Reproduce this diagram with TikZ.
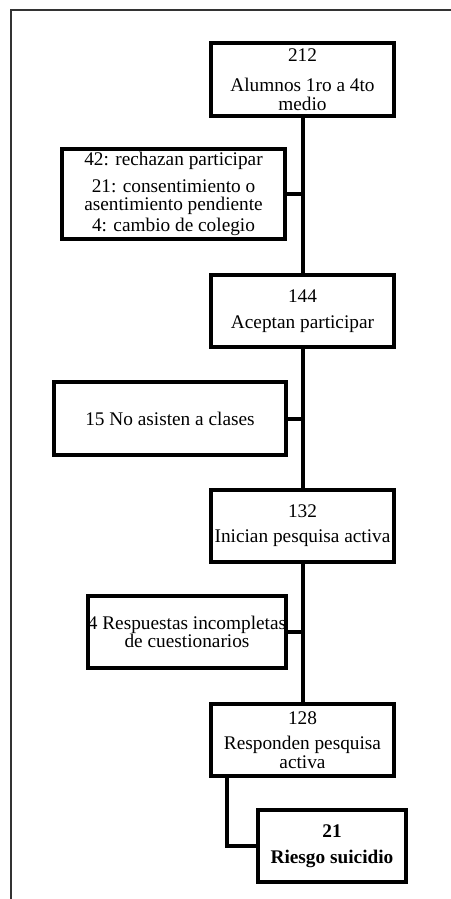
\documentclass[tikz,border=0pt]{standalone}
\usepackage{fontspec}
\setmainfont{Liberation Serif}
\usepackage{tikz}
\usetikzlibrary{positioning}

\begin{document}
\begin{tikzpicture}[x=1pt, y=-1pt,
	caja/.style={draw, line width=4pt, align=center, inner sep=2pt,
		font=\fontsize{19.3}{18.5}\selectfont},
	ancha/.style={caja, minimum width=183pt, minimum height=72pt},
	linea/.style={line width=4pt}]
	\useasboundingbox (0,0) rectangle (450,899);
	% Marco
	\draw[line width=1.5pt, black!80] (452,10) -- (11,10) -- (11,901);
	
	% Cajas principales
	\node[ancha, inner sep=0pt] (n212) at (302.5,79.5) {212\\[12pt]Alumnos 1ro a 4to\\medio};
	\node[ancha] (n144) at (302.5,311) {144\\[8pt]Aceptan participar};
	\node[ancha] (n132) at (302.5,525.5) {132\\[7pt]Inician pesquisa activa};
	\node[ancha] (n128) at (302.5,740) {128\\[7pt]Responden pesquisa\\activa};
	\node[caja, minimum width=148pt, minimum height=72pt, font=\fontsize{19.3}{18.5}\selectfont\bfseries]
		(n21) at (332,846) {21\\[8pt]Riesgo suicidio};
	
	% Exclusiones
	\node[caja, minimum width=223pt, minimum height=90pt, inner sep=0pt,
		font=\fontsize{19.3}{18}\selectfont] (n42) at (173.5,194)
		{42: rechazan participar\\[9pt]21: consentimiento o\\asentimiento pendiente\\[3pt]4: cambio de colegio};
	\node[caja, minimum width=232pt, minimum height=73pt] (n15) at (170,418.5) {15 No asisten a clases};
	\node[caja, minimum width=198pt, minimum height=72pt, inner sep=0pt] (n4) at (187,632)
		{4 Respuestas incompletas\\de cuestionarios};
	
	% Conectores
	\draw[linea] (n212.south) -- (n144.north);
	\draw[linea] (n144.south) -- (n132.north);
	\draw[linea] (n132.south) -- (n128.north);
	\draw[linea] (n42.east) -- (n42.east -| n212.south);
	\draw[linea] (n15.east) -- (n15.east -| n144.south);
	\draw[linea] (n4.east) -- (n4.east -| n132.south);
	\draw[linea] ([xshift=18pt]n128.south west) |- (n21.west);
\end{tikzpicture}
\end{document}
